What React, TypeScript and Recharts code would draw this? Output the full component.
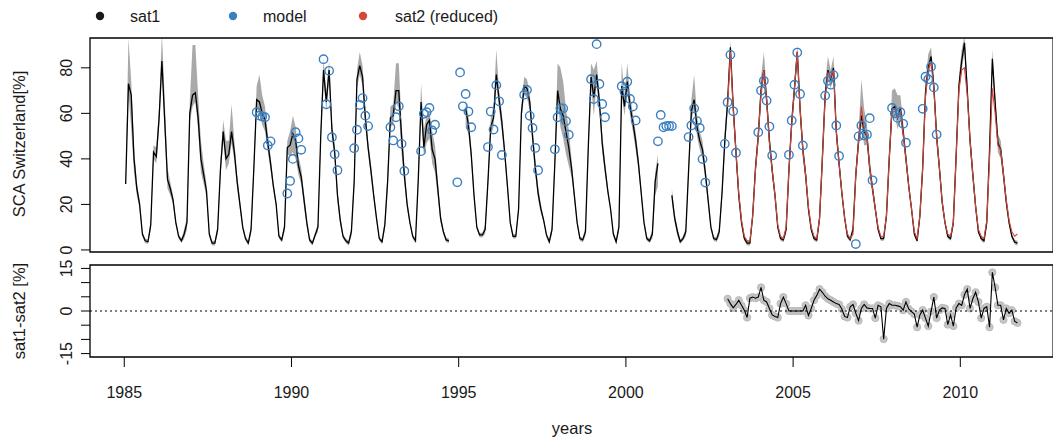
import React from 'react';
import { ComposedChart, Line, Area, Scatter, XAxis, YAxis, ReferenceArea, ReferenceLine } from 'recharts';

const FONT = '"Liberation Sans", Arial, Helvetica, sans-serif';
const BLUE = '#3a7fc1';
const RED = '#d5473a';
const GRAY_BAND = '#a9a9a9';

// ---------- data ----------
const years = [1985, 1986, 1987, 1988, 1989, 1990, 1991, 1992, 1993, 1994, 1995, 1996, 1997, 1998,
  1999, 2000, 2001, 2002, 2003, 2004, 2005, 2006, 2007, 2008, 2009, 2010, 2011];

// sat1 monthly SCA [%] (Jan..Dec), null = missing
const sat1ByYear: (number | null)[][] = [
  [29, 73, 68, 40, 27, 20, 7, 4, 3.6, 11, 43, 41],
  [58, 83, 57, 31, 27, 22, 12, 6, 4, 7, 12, 60],
  [68, 69, 58, 40, 33, 26, 7, 3, 3, 9, 35, 52],
  [40, 42, 52, 43, 30, 20, 10, 5, 3, 9, 36, 66],
  [65, 60, 57, 47, 38, 28, 20, 6, 4.4, 10, 45, 46],
  [51, 48, 37, 32, 22, 12, 4.4, 3, 6.6, 10, 50, 79],
  [65, 79, 53, 43, 24, 13, 6, 4, 3, 8, 30, 75],
  [81, 76, 58, 45, 35, 24, 14, 5, 3.6, 11, 30, 58],
  [59, 70, 70, 50, 33, 20, 12, 6, 4, 31, 65, 45],
  [55, 57, 44, 40, 27, 14, 8, 4.4, 4, null, null, null],
  [null, null, 62, 55, 42, 24, 10, 6.6, 6.6, 9, 30, 54],
  [58, 77, 66, 56, 43, 28, 12, 6, 6, 18, 60, 72],
  [71, 65, 50, 36, 25, 18, 13, 6.6, 3.6, 9, 38, 70],
  [62, 59, 52, 45, 36, 24, 12, 5, 4.4, 8, 45, 76],
  [67, 77, 65, 47, 36, 26, 18, 7, 3.6, 10, 72, 63],
  [74, 63, 56, 48, 38, 25, 12, 5, 4, 7, 30, 38],
  [null, null, null, null, 24, 14, 8, 3.6, 5, 8, 35, 61],
  [66, 54, 48, 44, 34, 22, 10, 5, 4.5, 8, 25, 48],
  [65, 89, 63, 43, 24, 12, 5, 3, 3, 15, 36, 50],
  [70, 79, 66, 48, 35, 24, 10, 5, 4.4, 9, 35, 56],
  [71, 87, 62, 44, 33, 18, 9, 5, 4.4, 14, 40, 68],
  [79, 75, 80, 52, 38, 25, 14, 6, 4.5, 9, 33, 48],
  [59, 52, 50, 36, 27, 18, 9, 5, 5, 15, 40, 62],
  [63, 58, 62, 52, 40, 28, 18, 7, 4, 15, 36, 69],
  [80, 85, 72, 50, 36, 21, 12, 6, 5, 12, 41, 72],
  [83, 91, 70, 48, 33, 19, 8, 5, 4, 12, 44, 84],
  [65, 47, 44, 33, 21, 12, 6, 3.5, 3],
];

// sat2 (reduced) monthly SCA [%], from 2003
const sat2StartYear = 2003;
const sat2ByYear: number[][] = [
  [63, 87, 62, 43, 25, 13, 6, 4, 4, 15, 35, 50],
  [69, 79, 66, 47, 35, 24, 11, 6, 5, 10, 35, 55],
  [71, 87, 62, 44, 33, 19, 10, 6, 5, 14, 40, 67],
  [78, 76, 79, 52, 38, 25, 14, 7, 5, 7, 33, 48],
  [63, 53, 50, 36, 27, 18, 10, 6, 6, 15, 40, 62],
  [62, 58, 61, 51, 40, 28, 18, 8, 5, 15, 36, 67],
  [79, 83, 71, 50, 36, 21, 12, 7, 6, 12, 41, 70],
  [79, 80, 68, 48, 33, 19, 9, 6, 5, 13, 40, 71],
  [60, 46, 44, 33, 22, 13, 8, 6, 7],
];

// upper / lower extent of the grey uncertainty band around sat1
const bandUpByYear: number[][] = [
  [2, 20, 6, 5, 3, 2, 1, 1, 1, 2, 3, 4],
  [5, 12, 10, 5, 3, 2, 1, 1, 1, 2, 3, 5],
  [22, 21, 10, 8, 5, 3, 1, 1, 1, 2, 4, 5],
  [8, 6, 12, 5, 3, 2, 1, 1, 1, 2, 3, 6],
  [12, 8, 6, 4, 3, 2, 1, 1, 1, 2, 3, 6],
  [8, 6, 4, 4, 3, 2, 1, 1, 1, 2, 4, 5],
  [4, 4, 4, 3, 3, 2, 1, 1, 1, 2, 3, 4],
  [6, 5, 4, 3, 3, 2, 1, 1, 1, 2, 4, 5],
  [5, 12, 12, 6, 4, 2, 1, 1, 1, 3, 8, 8],
  [4, 4, 8, 6, 4, 2, 1, 1, 1, 0, 0, 0],
  [0, 0, 4, 4, 3, 2, 1, 1, 1, 2, 3, 4],
  [5, 11, 4, 4, 3, 2, 1, 1, 1, 2, 3, 4],
  [4, 4, 4, 4, 3, 2, 1, 1, 1, 2, 4, 12],
  [18, 15, 10, 8, 4, 2, 1, 1, 1, 2, 4, 6],
  [12, 6, 4, 4, 3, 2, 1, 1, 1, 2, 10, 5],
  [8, 5, 4, 4, 3, 2, 1, 1, 1, 2, 4, 4],
  [0, 0, 0, 0, 3, 2, 2, 1, 1, 2, 3, 5],
  [11, 5, 4, 4, 3, 2, 1, 1, 1, 2, 3, 4],
  [4, 3, 4, 4, 3, 2, 1, 1, 1, 2, 3, 4],
  [6, 8, 5, 4, 3, 2, 1, 1, 1, 2, 3, 4],
  [4, 3, 4, 4, 3, 2, 1, 1, 1, 2, 3, 5],
  [6, 4, 5, 4, 3, 2, 1, 1, 1, 2, 3, 4],
  [16, 10, 5, 4, 3, 2, 1, 1, 1, 2, 4, 8],
  [8, 10, 6, 4, 3, 2, 1, 1, 1, 2, 3, 5],
  [6, 4, 4, 4, 3, 2, 1, 1, 1, 3, 4, 4],
  [5, 3, 4, 4, 3, 2, 1, 1, 1, 2, 3, 4],
  [3, 4, 4, 3, 2, 1, 1, 1, 1],
];
const bandDnByYear: number[][] = [
  [1, 4, 15, 6, 3, 2, 1, 1, 1, 2, 3, 3],
  [4, 4, 5, 4, 3, 2, 1, 1, 1, 2, 3, 4],
  [5, 4, 5, 6, 4, 3, 1, 1, 1, 2, 3, 4],
  [5, 4, 5, 4, 3, 2, 1, 1, 1, 2, 3, 4],
  [5, 5, 5, 4, 3, 2, 1, 1, 1, 2, 3, 5],
  [8, 8, 4, 3, 3, 2, 1, 1, 1, 2, 3, 4],
  [4, 4, 4, 3, 3, 2, 1, 1, 1, 2, 3, 4],
  [4, 4, 4, 3, 3, 2, 1, 1, 1, 2, 3, 4],
  [4, 5, 8, 8, 4, 2, 1, 1, 1, 2, 4, 4],
  [8, 8, 6, 6, 4, 2, 1, 1, 1, 0, 0, 0],
  [0, 0, 8, 4, 3, 2, 1, 1, 1, 2, 3, 4],
  [4, 4, 4, 4, 3, 2, 1, 1, 1, 2, 3, 4],
  [4, 4, 4, 3, 3, 2, 1, 1, 1, 2, 3, 4],
  [8, 10, 10, 8, 4, 2, 1, 1, 1, 2, 3, 4],
  [8, 4, 4, 4, 3, 2, 1, 1, 1, 2, 4, 4],
  [4, 4, 4, 4, 3, 2, 1, 1, 1, 2, 6, 10],
  [0, 0, 0, 0, 3, 2, 2, 1, 1, 2, 3, 4],
  [4, 4, 4, 4, 3, 2, 1, 1, 1, 2, 3, 4],
  [4, 3, 4, 4, 3, 2, 1, 1, 1, 2, 3, 4],
  [4, 4, 4, 4, 3, 2, 1, 1, 1, 2, 3, 4],
  [4, 3, 4, 4, 3, 2, 1, 1, 1, 2, 3, 4],
  [4, 4, 4, 4, 3, 2, 1, 1, 1, 2, 3, 4],
  [4, 6, 4, 4, 3, 2, 1, 1, 1, 2, 3, 4],
  [4, 5, 5, 4, 3, 2, 1, 1, 1, 2, 3, 4],
  [4, 4, 4, 4, 3, 2, 1, 1, 1, 2, 3, 4],
  [4, 4, 4, 4, 3, 2, 1, 1, 1, 2, 3, 4],
  [4, 4, 4, 3, 2, 1, 1, 1, 1],
];

// sat1 - sat2 [%], monthly from Jan 2003
const diffStartYear = 2003;
const diffValues: number[] = [
  4.3, 2.6, 1.1, 2.3, 3.8, 2.0, 0.3, -2.3, 4.5, 4.9,
  4.5, 4.9, 8.3, 3.8, 3.2, 0.9, -1.4, -1.9, -2.3, 2.6,
  4.9, 2.6, 0, 0, 0, 0, 0, 0, 2.0, -1.6,
  0.9, 3.8, 5.5, 7.7, 6.6, 5.2, 4.3, 3.8, 3.2, 2.6,
  2.3, 0.7, -1.9, -2.3, 1.5, 2.3, -0.8, -3.4, 0.9, 2.3,
  1.1, 0.9, 0.9, -2.5, 2.0, 1.5, -9.9,
  0.9, 2.6, 2.0, 2.0, 1.8, 1.5, 0.3, 3.2, 0.7, -0.2,
  -1.1, -5.7, -1.4, 0.3, -2.5, -5.3, -0.2, 4.9, -2.5, 0.3,
  1.1, 0.9, -4.8, -1.4, -5.3, 1.1, 2.6, 2.0, 5.7, 7.7,
  0.9, 4.3, 6.6, 3.2, -2.5, 0.9, 1.5, -5.7, 13.6,
  8.3, 2.0, 2.0, -3.1, 0.9, -0.8, 0.3, -3.6, -4.2,
];

// model SCA: [year, month (1-12), value %]
const modelPoints: [number, number, number][] = [
  [1988, 12, 60.5], [1989, 1, 59], [1989, 2, 58.6], [1989, 3, 58.3], [1989, 4, 45.9], [1989, 5, 47.7],
  [1989, 11, 24.8], [1989, 12, 30.3], [1990, 1, 40], [1990, 2, 51.7], [1990, 3, 49], [1990, 4, 44],
  [1990, 12, 83.8], [1991, 1, 64], [1991, 2, 78.7], [1991, 3, 49.5], [1991, 4, 42], [1991, 5, 35],
  [1991, 11, 44.7], [1991, 12, 52.8], [1992, 1, 63.7], [1992, 2, 66.7], [1992, 3, 59], [1992, 4, 54.4],
  [1992, 12, 53.9], [1993, 1, 48.1], [1993, 2, 58.3], [1993, 3, 63.1], [1993, 4, 46.6], [1993, 5, 34.7],
  [1993, 11, 43.4], [1993, 12, 59.8], [1994, 1, 60.5], [1994, 2, 62.4], [1994, 3, 52.5], [1994, 4, 55],
  [1994, 12, 29.7], [1995, 1, 78], [1995, 2, 63.1], [1995, 3, 68.5], [1995, 4, 60.8], [1995, 5, 53.9],
  [1995, 11, 45.2], [1995, 12, 60.8], [1996, 1, 52.9], [1996, 2, 72.4], [1996, 3, 65.3], [1996, 4, 41.7],
  [1996, 12, 68.2], [1997, 1, 70.3], [1997, 2, 58.9], [1997, 3, 53.6], [1997, 4, 44.8], [1997, 5, 35],
  [1997, 11, 44.2], [1997, 12, 58.3], [1998, 1, 62.2], [1998, 2, 62.2], [1998, 3, 56.6], [1998, 4, 50.6],
  [1998, 12, 75], [1999, 1, 66.3], [1999, 2, 90.4], [1999, 3, 72.9], [1999, 4, 64.1], [1999, 5, 58.3],
  [1999, 11, 71.9], [1999, 12, 69.5], [2000, 1, 73.9], [2000, 2, 66.3], [2000, 3, 63], [2000, 4, 56.9],
  [2000, 12, 47.7], [2001, 1, 59.3], [2001, 2, 53.9], [2001, 3, 54.4], [2001, 4, 54.5], [2001, 5, 54.4],
  [2001, 11, 49.6], [2001, 12, 54.7], [2002, 1, 62.2], [2002, 2, 56.6], [2002, 3, 53.6], [2002, 4, 39.9], [2002, 5, 29.6],
  [2002, 12, 46.6], [2003, 1, 64.9], [2003, 2, 85.7], [2003, 3, 60.9], [2003, 4, 42.7],
  [2003, 12, 51.7], [2004, 1, 70], [2004, 2, 74.3], [2004, 3, 65.6], [2004, 4, 54.2], [2004, 5, 41.5],
  [2004, 11, 41.8], [2004, 12, 56.9], [2005, 1, 72.6], [2005, 2, 86.7], [2005, 3, 68.5], [2005, 4, 45.9],
  [2005, 12, 67.8], [2006, 1, 74.3], [2006, 2, 72.6], [2006, 3, 76.8], [2006, 4, 54.7], [2006, 5, 41.3],
  [2006, 11, 2.6], [2006, 12, 49.9], [2007, 1, 54.7], [2007, 2, 50.3], [2007, 3, 50.7], [2007, 4, 57.9], [2007, 5, 30.6],
  [2007, 12, 62.4], [2008, 1, 60], [2008, 2, 58], [2008, 3, 60.5], [2008, 4, 55.4], [2008, 5, 47.1],
  [2008, 11, 62], [2008, 12, 76.1], [2009, 1, 75], [2009, 2, 80.5], [2009, 3, 71.4], [2009, 4, 50.7],
];

const xTicks = [1985, 1990, 1995, 2000, 2005, 2010];
const topTicks = [0, 20, 40, 60, 80];
const bottomTicks = [-15, -10, -5, 0, 5, 10, 15];
const bottomLabelled = [-15, 0, 15];
const legendLabels = ['sat1', 'model', 'sat2 (reduced)'];

// ---------- derived tables ----------
const X_DOMAIN: [number, number] = [1983.975, 2012.775];
const TOP_DOMAIN: [number, number] = [-0.9, 93.1];
const BOT_DOMAIN: [number, number] = [-16.2, 16.2];

const topData: any[] = [];
years.forEach((yr, yi) => {
  sat1ByYear[yi].forEach((s, m) => {
    const row2 = sat2ByYear[yr - sat2StartYear];
    const s2 = row2 && row2[m] != null ? row2[m] : null;
    topData.push({
      t: yr + (m + 0.5) / 12,
      sat1: s,
      band: s == null ? null : [s - bandDnByYear[yi][m], s + bandUpByYear[yi][m]],
      sat2: s2,
    });
  });
});

const diffData = diffValues.map((d, k) => ({ t: diffStartYear + (k + 0.5) / 12, diff: d }));
const modelData = modelPoints.map(([y, m, v]) => ({ t: y + (m - 0.5) / 12, v }));

// ---------- helpers ----------
const rotTick = (labelled: number[]) => (props: any) => {
  const { x, y, payload } = props;
  if (!labelled.includes(payload.value)) return <g />;
  return (
    <text x={x} y={y} transform={`rotate(-90, ${x}, ${y})`} textAnchor="middle"
      fontSize={16} fill="#1a1a1a" fontFamily={FONT}>{String(payload.value)}</text>
  );
};

const ModelCircle = (props: any) => {
  const { cx, cy } = props;
  if (cx == null || cy == null) return <g />;
  return <circle cx={cx} cy={cy} r={4.2} fill="none" stroke={BLUE} strokeWidth={1.4} />;
};

const CHART_W = 1060;
const MARGIN_R = 6.9;
const MARGIN_L = 30;
const Y_AXIS_W = 60;
const X_AXIS_H = 81;

export default function App() {
  return (
    <div style={{ position: 'absolute', left: 0, top: 0, width: 1053, height: 438, overflow: 'hidden', background: '#fff', fontFamily: FONT }}>
      {/* upper panel */}
      <div style={{ position: 'absolute', left: 0, top: 0 }}>
        <ComposedChart width={CHART_W} height={262} data={topData}
          margin={{ top: 38, right: MARGIN_R, bottom: 10, left: MARGIN_L }}>
          <XAxis type="number" dataKey="t" domain={X_DOMAIN} allowDataOverflow hide />
          <YAxis type="number" domain={TOP_DOMAIN} ticks={topTicks} interval={0} allowDataOverflow width={Y_AXIS_W}
            axisLine={false} tickLine={{ stroke: '#000', strokeWidth: 1 }} tickSize={9} tickMargin={9}
            tick={rotTick(topTicks)} />
          <Area type="linear" dataKey="band" stroke="none" fill={GRAY_BAND} fillOpacity={1}
            isAnimationActive={false} dot={false} activeDot={false} connectNulls={false} />
          <Line type="linear" dataKey="sat1" stroke="#000" strokeWidth={1.3} dot={false} activeDot={false}
            isAnimationActive={false} connectNulls={false} />
          <Line type="linear" dataKey="sat2" stroke={RED} strokeWidth={1.1} dot={false} activeDot={false}
            isAnimationActive={false} connectNulls={false} />
          <Scatter data={modelData} dataKey="v" shape={ModelCircle} isAnimationActive={false} />
          <ReferenceArea x1={X_DOMAIN[0]} x2={X_DOMAIN[1]} y1={TOP_DOMAIN[0]} y2={TOP_DOMAIN[1]}
            fill="none" fillOpacity={0} stroke="#000" strokeWidth={1.3} ifOverflow="visible" />
        </ComposedChart>
      </div>
      {/* lower panel: grey point markers (drawn first, underneath) */}
      <div style={{ position: 'absolute', left: 0, top: 0 }}>
        <ComposedChart width={CHART_W} height={438} data={diffData}
          margin={{ top: 265, right: MARGIN_R, bottom: X_AXIS_H, left: MARGIN_L + Y_AXIS_W }}>
          <XAxis type="number" dataKey="t" domain={X_DOMAIN} allowDataOverflow hide />
          <YAxis type="number" domain={BOT_DOMAIN} allowDataOverflow hide />
          <Line type="linear" dataKey="diff" stroke="none" strokeWidth={0}
            dot={{ r: 3.6, fill: '#c6c6c6', stroke: '#bababa', strokeWidth: 1 }} activeDot={false}
            isAnimationActive={false} />
        </ComposedChart>
      </div>
      {/* lower panel: axes, zero line, black line, frame */}
      <div style={{ position: 'absolute', left: 0, top: 0 }}>
        <ComposedChart width={CHART_W} height={438} data={diffData}
          margin={{ top: 265, right: MARGIN_R, bottom: 0, left: MARGIN_L }}>
          <XAxis type="number" dataKey="t" domain={X_DOMAIN} allowDataOverflow ticks={xTicks} interval={0}
            height={X_AXIS_H} axisLine={false} tickLine={{ stroke: '#000', strokeWidth: 1 }} tickSize={10} tickMargin={20}
            tick={{ fontSize: 16, fill: '#1a1a1a', fontFamily: FONT }} />
          <YAxis type="number" domain={BOT_DOMAIN} ticks={bottomTicks} interval={0} allowDataOverflow width={Y_AXIS_W}
            axisLine={false} tickLine={{ stroke: '#000', strokeWidth: 1 }} tickSize={9} tickMargin={9}
            tick={rotTick(bottomLabelled)} />
          <ReferenceLine y={0} stroke="#000" strokeWidth={1} strokeDasharray="2 3" />
          <Line type="linear" dataKey="diff" stroke="#000" strokeWidth={1.1} dot={false} activeDot={false}
            isAnimationActive={false} />
          <ReferenceArea x1={X_DOMAIN[0]} x2={X_DOMAIN[1]} y1={BOT_DOMAIN[0]} y2={BOT_DOMAIN[1]}
            fill="none" fillOpacity={0} stroke="#000" strokeWidth={1.3} ifOverflow="visible" />
        </ComposedChart>
      </div>
      <svg width={1053} height={438} style={{ position: 'absolute', left: 0, top: 0, pointerEvents: 'none' }}>
        <circle cx={100} cy={16} r={4.2} fill="#1a1a1a" />
        <text x={130} y={22} fontSize={16} fill="#1a1a1a" fontFamily={FONT}>{legendLabels[0]}</text>
        <circle cx={233} cy={16} r={4.2} fill={BLUE} />
        <text x={263} y={22} fontSize={16} fill="#1a1a1a" fontFamily={FONT}>{legendLabels[1]}</text>
        <circle cx={363} cy={16} r={4.2} fill={RED} />
        <text x={395} y={22} fontSize={16} fill="#1a1a1a" fontFamily={FONT}>{legendLabels[2]}</text>
        <text x={25} y={144} transform="rotate(-90, 25, 144)" textAnchor="middle" fontSize={16.5}
          fill="#1a1a1a" fontFamily={FONT}>SCA Switzerland[%]</text>
        <text x={25} y={311} transform="rotate(-90, 25, 311)" textAnchor="middle" fontSize={16.5}
          fill="#1a1a1a" fontFamily={FONT}>sat1-sat2 [%]</text>
        <text x={572} y={434} textAnchor="middle" fontSize={16.5} fill="#1a1a1a" fontFamily={FONT}>years</text>
      </svg>
    </div>
  );
}
